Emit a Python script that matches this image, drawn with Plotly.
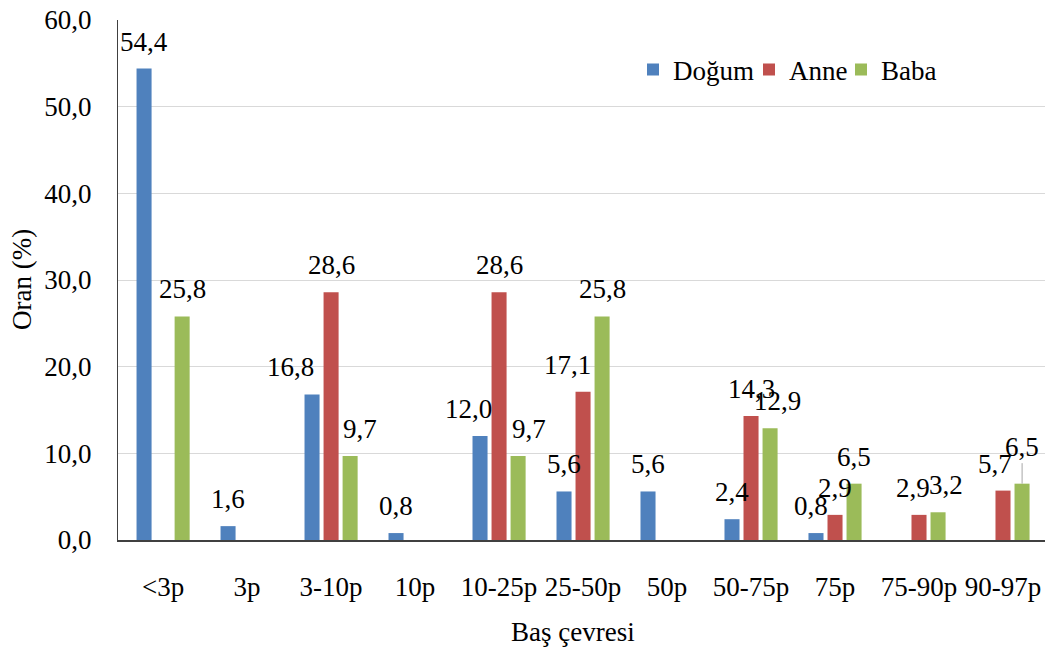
import plotly.graph_objects as go

categories = ["<3p", "3p", "3-10p", "10p", "10-25p", "25-50p", "50p", "50-75p", "75p", "75-90p", "90-97p"]
dogum = [54.4, 1.6, 16.8, 0.8, 12.0, 5.6, 5.6, 2.4, 0.8, None, None]
anne = [None, None, 28.6, None, 28.6, 17.1, None, 14.3, 2.9, 2.9, 5.7]
baba = [25.8, None, 9.7, None, 9.7, 25.8, None, 12.9, 6.5, 3.2, 6.5]
series_names = ["Doğum", "Anne", "Baba"]
colors = ["#4F81BD", "#C0504D", "#9BBB59"]

# label nudges (px) to mimic the original label placement: (series index, category) -> (dx, dy)
nudges = {
    (0, "3-10p"): (-21, 0), (2, "3-10p"): (10, 0),
    (0, "10-25p"): (-11, 0), (2, "10-25p"): (11, 0),
    (1, "25-50p"): (-16, 0),
    (2, "50-75p"): (7, 0),
    (0, "75p"): (-5, 0),
    (1, "75-90p"): (-6, 0), (2, "75-90p"): (8, 0),
    (1, "90-97p"): (-8, 0),
}
leader = {(2, "90-97p")}

FONT = "Liberation Serif"
FS = 27
W, H = 1048, 651
ML, MR, MT, MB = 118, 3, 20, 111
PW = W - ML - MR
BARGAP = 0.32

fig = go.Figure()
all_vals = [dogum, anne, baba]
legend_ids = ["legend", "legend2", "legend3"]
legend_px = [633, 749, 841]
for name, vals, col, lid in zip(series_names, all_vals, colors, legend_ids):
    fig.add_trace(go.Bar(x=categories, y=vals, name=name, legend=lid, showlegend=True,
                         marker=dict(color=col, line=dict(width=0))))

cat_w = PW / len(categories)
slot = cat_w * (1 - BARGAP) / 3

annotations = []
for si, vals in enumerate(all_vals):
    for c, v in zip(categories, vals):
        if v is None:
            continue
        dx, dy = nudges.get((si, c), (0, 0))
        txt = f"{v:.1f}".replace(".", ",")
        if (si, c) in leader:
            annotations.append(dict(x=c, y=v, xref="x", yref="y", text=txt, showarrow=True,
                                    arrowhead=0, arrowwidth=1, arrowcolor="#A6A6A6",
                                    ax=0, ay=-37, xshift=(si - 1) * slot,
                                    font=dict(family=FONT, size=FS, color="black")))
        else:
            annotations.append(dict(x=c, y=v, xref="x", yref="y", text=txt, showarrow=False,
                                    xanchor="center", yanchor="middle",
                                    xshift=(si - 1) * slot + dx, yshift=27 + dy,
                                    font=dict(family=FONT, size=FS, color="black")))

annotations.append(dict(text="Oran (%)", xref="paper", yref="paper", x=-(ML - 22) / PW, y=0.5,
                        textangle=-90, showarrow=False, xanchor="center", yanchor="middle",
                        font=dict(family=FONT, size=FS, color="black")))
annotations.append(dict(text="Baş çevresi", xref="paper", yref="paper", x=(573 - ML) / PW,
                        y=-(632 - (H - MB)) / (H - MT - MB), showarrow=False, xanchor="center", yanchor="middle",
                        font=dict(family=FONT, size=FS, color="black")))

legend_common = dict(orientation="h", y=0.904, xanchor="left", yanchor="middle", visible=True,
                     font=dict(family=FONT, size=FS, color="black"), bgcolor="rgba(0,0,0,0)")
fig.update_layout(
    width=W, height=H,
    margin=dict(l=ML, r=MR, t=MT, b=MB, autoexpand=False),
    paper_bgcolor="white", plot_bgcolor="white",
    barmode="group", bargap=BARGAP, bargroupgap=0.21,
    separators=",.",
    showlegend=True,
    font=dict(family=FONT, size=FS, color="black"),
    legend=dict(x=(legend_px[0] - ML) / PW, **legend_common),
    legend2=dict(x=(legend_px[1] - ML) / PW, **legend_common),
    legend3=dict(x=(legend_px[2] - ML) / PW, **legend_common),
    annotations=annotations,
)
fig.update_yaxes(range=[0, 60], dtick=10, tickformat=".1f", showgrid=True, gridcolor="#D9D9D9", gridwidth=1,
                 showline=True, linecolor="#404040", linewidth=1, zeroline=False,
                 ticks="outside", ticklen=20, tickcolor="rgba(0,0,0,0)",
                 tickfont=dict(family=FONT, size=FS, color="black"))
fig.update_xaxes(showline=True, linecolor="#404040", linewidth=1.5, ticks="outside", ticklen=22,
                 tickcolor="rgba(0,0,0,0)", tickfont=dict(family=FONT, size=FS, color="black"))

fig.write_html("out.html")
